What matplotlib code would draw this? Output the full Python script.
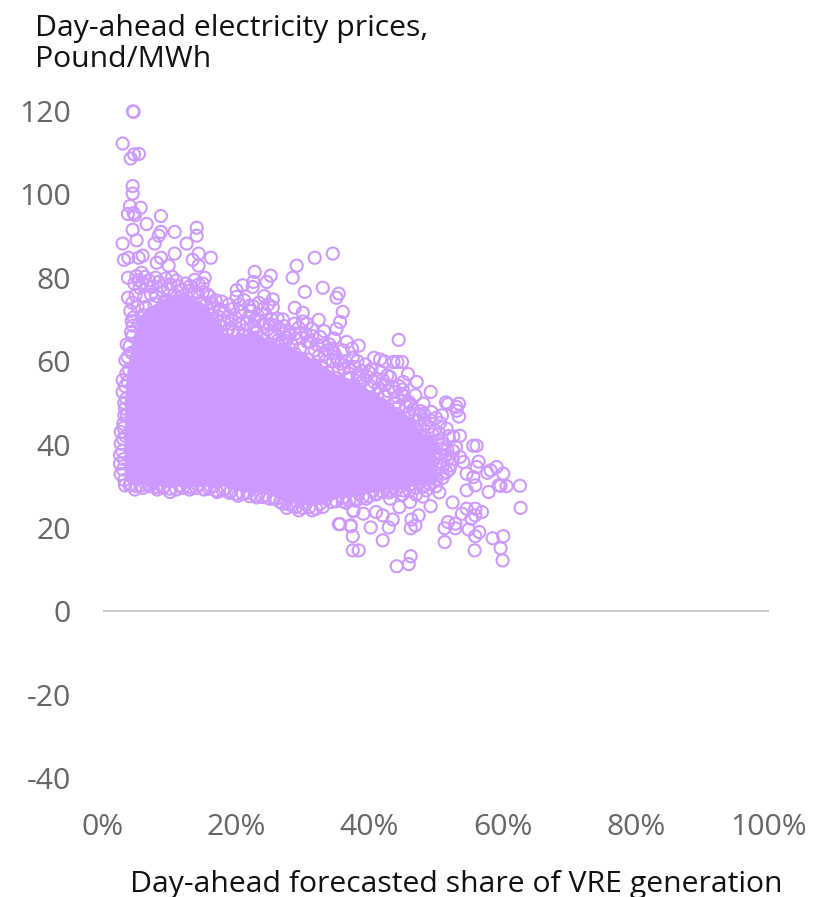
#!/bin/python3
import matplotlib
matplotlib.use("Agg")
import matplotlib.pyplot as plt

plt.rcParams['font.family'] = ['Open Sans', 'DejaVu Sans']

PURPLE = '#CC99FF'

# hand: (share %, price)
top_points = [(4.5,119.9),(4.6,119.8),(2.95,112.2),(4.15,108.6),(4.66,109.6),(5.4,109.7),(4.45,102),(4.45,100.2),
 (4.05,97.2),(5.66,96.8),(3.75,95.3),(4.8,95),(4.6,95.5),(8.7,94.8),(6.55,92.9),(4.45,91.5),(5.05,89),(2.95,88.2),
 (14.07,92),(14.07,90.1),(10.76,91),(8.7,91),(8.36,90.1),(7.75,88.2),(12.56,88.2),(10.76,85.8),(14.35,85.8),
 (16.2,84.8),(13.47,84.3),(14.35,82.9),(3.15,84.3),(3.8,84.8),(5.96,85.3),(5.35,84.8),(8.7,84.8),(8.06,83.6),
 (9.86,82.9),(3.75,80),(5.8,81.2),(5.0,80.4),(15.27,80),(13.77,79.5),(14.97,78.6),(3.75,75.2),(22.78,81.4),
 (25.18,80.5),(24.58,79),(22.58,79),(22.48,77.8),(20.98,78.2),(20.07,77),(20.07,75.4),(29.08,82.9),(28.48,80),
 (31.8,84.8),(34.5,85.8),(30.3,76.6),(33,77.6),(35.4,76.2),(35.06,75.2),(36,71.8),(35.6,69.4),(35.06,67.7),
 (28.8,72.8),(30,71.6),(32.4,69.9),(25.5,74.8),(25.5,72.9),(20.7,71.9),(17.8,74.3),(22.5,73.2),(24,72.5),
 (19.3,69.8),(28.8,69),(30,69.5),(25.8,68.6)]

right_points = [(44.4,65.1),(38.4,63.7),(36.6,64.6),(40.7,60.8),(41.6,60.4),(42.3,59.9),(43.6,59.8),(44.2,59.8),
 (44.9,59.8),(45.8,56.9),(47.1,55),(49.2,52.6),(46.9,51.8),(45.1,55),(51.5,50.1),(51.8,49.7),(53.1,49),(53.45,49.8),
 (53.1,48.1),(53.45,46.7),(50.9,47),(48.1,49.8),(49.3,47.8),(51.6,43.8),(50.6,45.2),(53.6,42.1),(52.6,41.9),
 (55.6,39.7),(56.1,39.7),(56.4,35.9),(56.1,34.6),(59.1,34.6),(58.2,33.8),(60.1,33),(57.7,33.2),(62.6,30.1),
 (60.6,30),(59.4,30.2),(59.7,30.1),(57.9,28.6),(62.7,24.8),(55.9,30.2),(54.6,29),(55.6,32.2),(54.6,33),(53.6,37),
 (54.1,35.8),(52.5,26.1),(49.2,25.2),(54.6,24.6),(55.9,24.6),(56.9,23.8),(55.9,23),(53.9,23.4),(55.3,22.2),
 (51.8,21.4),(52.9,21),(52.9,19.9),(51.3,19.9),(54.9,19.6),(56.5,19),(55.9,18),(58.5,17.5),(60.1,18),(51.3,16.6),
 (59.7,15.1),(55.8,14.6),(60,12.2),(43.5,22),(42.9,20.1),(40.2,20.1),(42,17),(37.2,20.4),(37.5,18),(37.5,14.6),
 (38.4,14.6),(35.6,20.9),(46.2,13.2),(45.9,11.3),(44.1,10.8),(46.2,19.9),(46.9,20.6),(47.4,23),(46.3,22),(42,23),
 (41,23.8),(39.1,23.4),(37.6,24.2),(43.1,27),(46.1,26.2),(44.5,25),(48,27.5),(50,30),(51,32),(52,34),(52.5,36.5),
 (50.5,28.5),(48.5,29),(47,28),(45,28),(43,28.5),(41,28),(39.5,27),(38,26.5),(36.5,26)]

# rings on the rim of the solid part
left_points = [(3.55,64),(3.36,60.2),(2.95,55.4),(2.95,52.6),(3.3,48.6),(3.05,45),(2.65,43),(2.65,40.2),(2.55,37.5),
 (2.55,35.4),(2.65,32.9),(3.3,30.2),(4.8,29.2),(6.95,30.5),(8.15,29.2),(10.06,28.6),(13.06,29.8),(15.17,29.2),
 (17.16,28.6),(18.3,29.4),(20.3,27.7),(23.08,27.3),(25.6,27),(27.6,24.8),(29.4,24.2),(31.4,24.2),(34.3,26.2),
 (37.6,24),(35.4,20.9),(37.2,20.6),(4.2,30.5),(5.6,30.1),(7.5,31),(9.2,30),(11.5,30.2),(12.3,31),(14.2,30.3),
 (16.2,30),(19.2,28.8),(21.7,28.4),(24.4,27.8),(26.6,26.2),(28.5,25.4),(30.4,25.6),(32.6,25.8),(33.5,27),(36,27.2),
 (3.1,36.5),(3.4,42),(3.6,47),(3.5,51),(3.7,55),(3.9,58),(4.3,62),(4.4,66),(4.5,68.5)]

upper_band = [(4.6,70.5),(5.2,73),(4.9,75.8),(5.5,77.6),(6.2,75.5),(6.6,78.2),(7.2,76),(7.7,73.8),(8.4,79),(9,76.8),
 (9.3,74.4),(10.1,78.4),(10.7,76),(11,79.3),(11.8,77),(12.2,74.8),(12.9,76.8),(13.5,74),(14.2,76.4),(14.8,74.2),
 (15.5,73.6),(16,75.5),(16.6,72.5),(17.2,70.8),(18.1,69.8),(18.8,67.6),(19.6,67),(20.5,68.8),(21.3,67.4),(21.9,70.6),
 (22.7,68.4),(23.2,71),(24,69),(24.7,67.6),(25.4,66.6),(26.3,65),(26.9,64.4),(27.7,65.6),(28.4,63.8),(29,65.4),
 (29.6,63),(30.4,66.6),(31.1,64.6),(31.8,62.6),(32.6,65.8),(33.3,61.6),(34,64),(34.7,62),(35.3,60),(36,62.6),
 (36.9,58.6),(37.5,60.8),(38.2,60),(38.9,57.6),(39.6,56.4),(40.3,58),(41,55.8),(41.7,57.4),(42.4,54.4),(43.1,56.2),
 (43.8,52.6),(44.5,54),(45.2,51.6),(45.9,50.2),(46.6,48.4),(47.4,47),(48.2,46),(48.9,44.2),(49.5,42.4),(50.2,41),
 (50.8,39),(51.4,37.2),(51.1,35),(50.3,34),(49.2,32),(47.8,31),(46.4,30.4),(44.8,30),(42.8,30),(40.6,29),(38.4,28.4),
 (19.5,72.5),(20.5,73.6),(21.2,74.6),(23.4,74),(24.2,75.6),(26.2,70.2),(27.2,68.4),(29.4,68),(31.3,67.8),(33.2,67.2),
 (27.2,66.6),(23,66.8),(25.3,70),(21,66.2),(17.6,68.4),(16.2,71),(15.2,70.8),(11.4,73),(8.2,72),(6,71),
 (34.5,60),(36.8,56),(38.7,54.8),(40.2,54),(42.2,51.6),(44,50),(46,47.6),(47.6,44.4),(49,40),(37.4,63),(34.7,65.4)]

# second layer of rings, closes up the edge of the cloud
rim_band = [(4.1,72),(4.4,74),(4.7,78.6),(5.3,79.4),(5.9,78.8),(6.3,80.2),(6.9,79.4),(7.4,77.8),(7.9,80),(8.7,78),
 (9.4,79.8),(9.8,77.4),(10.4,80.2),(11.2,78),(11.6,75.4),(12.4,78.6),(13.1,78),(13.7,76.2),(14.4,78.4),(15,76.6),
 (15.7,76),(16.3,74),(16.9,74.6),(17.5,72.4),(18.2,72),(18.7,70.6),(19.2,69),(19.9,70.4),(20.3,66.8),(21.6,69),
 (22.2,72),(22.8,70),(23.6,69.6),(24.4,71.2),(25,68.8),(25.8,66.6),(26.6,67.6),(27.5,64.8),(28,67),(28.9,66.6),
 (29.8,65.6),(30.7,64.6),(31.4,66),(32.1,64),(33,63.8),(33.7,62.6),(34.4,63),(35,61),(35.7,59.4),(36.4,60),
 (37,57),(37.8,58.6),(38.5,56),(39.2,55.6),(39.9,57.4),(40.7,55),(41.4,53.6),(42,55.6),(42.8,52.8),(43.5,53.8),
 (44.2,51.4),(44.9,52),(45.5,49.2),(46.2,49.6),(46.9,47),(47.7,48),(48.4,45),(49.2,45.8),(49.8,43.4),(50.5,42.6),
 (51,40.2),(51.7,38.6),(52,36.8),(52.2,35),(51.6,33.4),(51,33),(50,31.6),(49,30.6),(48,29.8),(47,29.6),(46,29),
 (45,29),(44,29),(43,29),(42,28.6),(41,28.2),(40,27.6),(39,27.4),(38,27),(37,26.6),(36,26.4),(35,26.4),(33,25),
 (32,24.6),(31,25),(30,24.8),(29,25),(28,25.6),(27,25.8),(26,27),(25,27),(24,27.4),(23,27.8),(22,27.6),(21,28.2),
 (20,28.2),(19,28.4),(18,29),(17,29),(16,29.4),(15,29.4),(14,29.6),(13,29.2),(12,29.6),(11,29.2),(10,29.4),(9,29.6),
 (8,29.8),(7,30),(6,29.6),(5,30),(4,30.2),(3.2,31.5),(3,34),(2.9,38.4),(3,41.4),(3.1,44),(3.2,47),(3.2,50),(3.3,54),
 (3.5,57),(3.7,61),(4,63.6),(4.2,67),(4.3,69.6)]

# third layer, breaks up the smooth outline of the solid part
edge_band = [(13.4,72),(14.6,71.8),(15.6,70.4),(16.8,69),(17.8,66.4),(18.8,65),(19.6,64.6),(20.8,65),(21.8,66),(22.6,65.4),
 (23.8,65.6),(24.8,64),(25.8,63.6),(26.8,62.6),(27.8,62),(28.8,61.8),(29.8,60.6),(30.8,60.4),(31.8,59),(32.8,58.4),
 (33.8,57.2),(34.8,56),(35.8,54.8),(36.8,54),(37.8,53),(38.8,52.4),(39.8,51.4),(40.8,50.6),(41.8,49.6),(42.8,48.6),
 (43.8,47.4),(44.8,46.2),(45.8,44.8),(46.8,43.6),(47.8,42),(48.8,40.6),(49.6,39),(49.9,37),(50,35.4),(49.8,33.4),
 (23.4,63),(28.2,59.6),(31.2,57.6),(34.2,55),(37.2,52),(40.2,49.4),(43.2,46.6),(46.2,42.8),(48.2,38.6),(16,67.6),
 (20,62.8),(25.2,61.8),(32.4,61.2),(35.4,57.8),(38.2,56.6),(41.2,52),(44.4,49),(47.2,45.8),(50.6,37.6),(52.6,38.4),
 (10.6,74),(12,72.4),(9.4,72.6),(7.2,71.4),(5.4,69),(6.4,73),(8,75.6),(27,70),(30.6,69),(24.8,73.6),(21.9,73.2),
 (18.9,73.6),(33.4,60),(36.2,58.2),(39.4,59.2),(42.7,56.6),(45,53.2),(48.2,47.4),(50,46.4),(51.9,42),(53,39.4)]

# the part of the cloud that reads as solid colour
core_x = [3.2,3.6,4.5,5.5,7,8.5,10,11.5,13,15,16.5,18,20,22,23,25,27,28.5,30,32,34,35,36,38,40,42,44,45,46,47,48,49,50]
core_low = [32,31,30.5,30.5,30,30,30,30,30,30,30,30,29,28.5,28.5,28,26.5,26,25.5,25.5,26.5,27,27.5,27.5,28.5,29,29.5,29.5,30,30,30.5,31,31.5]
core_high = [50,58,66,71,73,74.5,76,76,75,74,71,67,66,67,67,65,64,63,62,60,58,57,56,54.5,53,51,48.5,47.5,46,44.5,43,42,40]

zero_y = 0
x_ticks = [0,20,40,60,80,100]
y_ticks = [-40,-20,0,20,40,60,80,100,120]

fig = plt.figure(figsize=(8.21,8.97),dpi=100)
ax = fig.add_axes([103/821, 1-778/897, 666/821, 667/897])

ax.fill_between(core_x,core_low,core_high,color=PURPLE,lw=0,zorder=2)
for pts in (top_points,right_points,left_points,upper_band,rim_band,edge_band):
    xs = [p[0] for p in pts]
    ys = [p[1] for p in pts]
    ax.scatter(xs,ys,s=76,facecolors='none',edgecolors=PURPLE,linewidths=1.5,zorder=3,clip_on=False)

ax.axhline(zero_y,color='#BFBFBF',lw=1.1,zorder=1)

ax.set_xlim(0,100)
ax.set_ylim(-40,120)
ax.set_xticks(x_ticks)
ax.set_xticklabels([f'{v}%' for v in x_ticks])
ax.set_yticks(y_ticks)
ax.set_yticklabels([str(v) for v in y_ticks])
ax.tick_params(length=0,labelsize=21.7,labelcolor='#666666')
ax.tick_params(axis='y',pad=23)
ax.tick_params(axis='x',pad=25)
for s in ax.spines.values():
    s.set_visible(False)

fig.text(35/821,1-44/897,'Day-ahead electricity prices,\nPound/MWh',fontsize=21.7,color='#111111',va='center',ha='left',linespacing=1.12)
fig.text(456/821,1-884/897,'Day-ahead forecasted share of VRE generation',fontsize=21.7,color='#111111',va='center',ha='center')

fig.savefig('out.png',dpi=100)
